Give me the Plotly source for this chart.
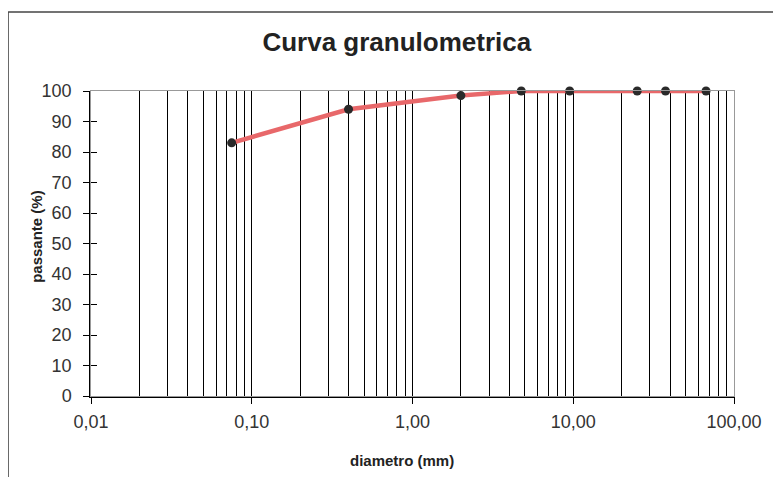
import plotly.graph_objects as go

diametro = [0.075, 0.4, 2.0, 4.75, 9.5, 25.0, 37.5, 67.0]
passante = [83, 94, 98.5, 100, 100, 100, 100, 100]

x_tickvals = [0.01, 0.1, 1, 10, 100]
x_ticktext = ["0,01", "0,10", "1,00", "10,00", "100,00"]
minor_vals = [m * 10 ** e for e in range(-2, 2) for m in range(2, 10)]
y_tickvals = list(range(0, 101, 10))

font_family = "Liberation Sans, Arial, sans-serif"

fig = go.Figure()
fig.add_trace(go.Scatter(x=[0.01], y=[0], yaxis="y2", xaxis="x2",
                         mode="markers", marker=dict(opacity=0),
                         showlegend=False, hoverinfo="skip"))
fig.add_trace(go.Scatter(
    x=diametro, y=passante, mode="lines+markers",
    line=dict(color="#e8686a", width=4.5),
    marker=dict(color="#2a2a2a", size=9),
    showlegend=False, cliponaxis=False,
))

fig.update_layout(
    width=773, height=469,
    paper_bgcolor="white", plot_bgcolor="white",
    margin=dict(l=83, r=47, t=83, b=81, autoexpand=False),
    title=dict(text="<b>Curva granulometrica</b>", x=0.503, xanchor="center",
               y=0.9275, yanchor="middle",
               font=dict(family=font_family, size=26, color="#222")),
    font=dict(family=font_family, color="#333"),
    xaxis=dict(
        type="log", range=[-2, 2], automargin=False,
        tickvals=x_tickvals, ticktext=x_ticktext,
        tickfont=dict(size=18, color="#333"),
        ticks="outside", ticklen=6, tickcolor="black",
        ticklabelstandoff=3,
        showgrid=True, gridcolor="black", gridwidth=1,
        minor=dict(tickvals=minor_vals, showgrid=True, gridcolor="black",
                   gridwidth=1, ticks=""),
        showline=True, linecolor="black", linewidth=1.5,
        zeroline=False,
    ),
    xaxis2=dict(type="log", range=[-2, 2], overlaying="x", showgrid=False,
                showticklabels=False, tickvals=x_tickvals, ticks="inside",
                ticklen=4, tickcolor="black", showline=True, linecolor="#999",
                mirror=True, zeroline=False, automargin=False),
    yaxis=dict(
        range=[0, 100], tickvals=y_tickvals, automargin=False,
        tickfont=dict(size=18, color="#333"),
        ticks="outside", ticklen=6, tickcolor="black",
        ticklabelstandoff=8,
        showgrid=False, zeroline=False,
        showline=True, linecolor="black", linewidth=1.5,
    ),
    yaxis2=dict(range=[0, 100], overlaying="y", showgrid=False,
                showticklabels=False, tickvals=y_tickvals, ticks="inside",
                ticklen=6, tickcolor="black", showline=True, linecolor="#999",
                mirror=True, zeroline=False, automargin=False),
    annotations=[
        dict(text="<b>diametro (mm)</b>", xref="paper", yref="paper",
             x=0.4837, y=-0.21, xanchor="center", yanchor="middle",
             showarrow=False, font=dict(size=15, color="#222")),
        dict(text="<b>passante (%)</b>", xref="paper", yref="paper",
             x=-0.084, y=0.525, xanchor="center", yanchor="middle",
             textangle=-90, showarrow=False, font=dict(size=15, color="#222")),
    ],
)

# outer chart frame
fig.add_shape(type="line", xref="paper", yref="paper",
              x0=-0.129, x1=-0.129, y0=-0.3, y1=1.259,
              line=dict(color="#444", width=1.5))
fig.add_shape(type="line", xref="paper", yref="paper",
              x0=-0.129, x1=1.0715, y0=1.259, y1=1.259,
              line=dict(color="#444", width=1.5))

fig.write_html("out.html")
